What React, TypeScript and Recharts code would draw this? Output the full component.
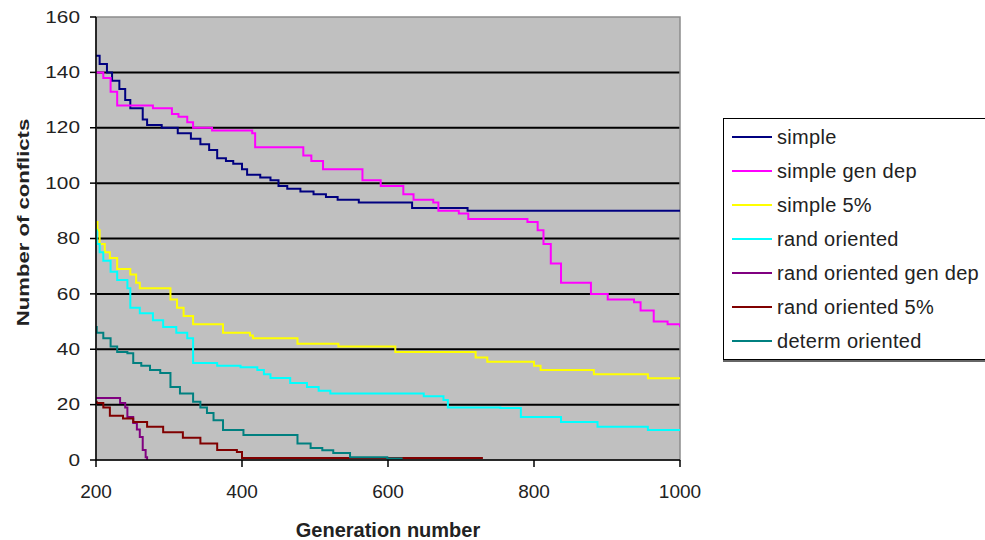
import React from 'react';
import { LineChart, Line, XAxis, YAxis, CartesianGrid, ReferenceArea } from 'recharts';

const xTicks = [200, 400, 600, 800, 1000];
const yTicks = [0, 20, 40, 60, 80, 100, 120, 140, 160];

const simple = [
  [200, 146], [205, 143], [215, 140], [222, 137], [232, 134], [240, 130], [247, 127], [264, 123], [270, 121],
  [290, 120], [312, 118], [330, 116], [343, 114], [355, 112], [366, 109], [378, 108], [388, 107], [400, 105],
  [407, 103], [425, 102], [439, 101], [450, 99], [462, 98], [480, 97], [498, 96], [515, 95], [531, 94],
  [560, 93], [610, 93], [633, 91], [680, 91], [709, 90], [1000, 90],
];
const simpleGenDep = [
  [200, 140], [210, 138], [220, 133], [229, 128], [274, 128], [278, 127], [304, 125], [313, 124], [325, 122],
  [333, 120], [359, 119], [414, 118], [418, 113], [477, 113], [484, 110], [495, 108], [511, 105], [562, 105],
  [565, 101], [590, 99], [614, 99], [621, 96], [635, 94], [662, 93], [669, 90], [697, 89], [710, 87],
  [765, 87], [791, 86], [805, 83], [813, 78], [823, 71], [837, 64], [864, 64], [878, 60], [901, 58],
  [937, 57], [946, 54], [964, 50], [983, 49], [1000, 48],
];
const simple5 = [
  [200, 86], [202, 83], [205, 78], [212, 75], [219, 73], [229, 69], [247, 67], [255, 64], [260, 62],
  [290, 62], [302, 58], [311, 55], [320, 52], [333, 49], [356, 49], [374, 46], [411, 45], [415, 44],
  [466, 44], [476, 42], [532, 41], [610, 39], [709, 39], [720, 37], [736, 35.5], [791, 35.5], [800, 34],
  [809, 32.5], [874, 32.5], [882, 31], [946, 31], [956, 29.5], [1000, 29.5],
];
const randOriented = [
  [200, 83], [201, 78], [205, 75], [210, 72], [220, 68], [229, 65], [243, 62], [247, 55], [260, 53],
  [278, 50.5], [292, 48], [310, 46], [325, 44], [333, 35], [366, 34], [398, 33.5], [421, 32.5], [430, 31],
  [439, 29.6], [466, 27.8], [489, 26.4], [505, 25], [521, 24], [645, 24], [649, 23], [676, 21.7], [682, 19],
  [717, 19], [754, 18.8], [782, 15.5], [833, 15.5], [837, 13.7], [882, 13.7], [887, 12], [950, 12],
  [956, 10.8], [1000, 10.8],
];
const randOrientedGenDep = [
  [200, 22.4], [223, 22.4], [233, 20.6], [240, 19], [243, 15.5], [251, 13.4], [256, 11], [260, 8.3],
  [264, 3.6], [268, 1], [270, 0],
];
const randOriented5 = [
  [200, 21], [201, 20.6], [210, 19], [219, 16], [237, 15], [251, 13.7], [270, 12], [292, 10], [319, 8],
  [343, 6], [366, 3.6], [393, 2.9], [400, 0.7], [730, 0.7],
];
const determOriented = [
  [200, 48], [201, 46], [210, 44], [220, 41], [229, 39], [243, 38.6], [251, 35], [262, 34], [274, 32.5],
  [288, 31.4], [302, 26.4], [315, 24], [333, 21], [343, 19], [352, 17], [361, 14.4], [374, 10.8], [402, 9],
  [466, 9], [476, 6], [494, 4.3], [510, 3.5], [525, 2.5], [548, 1], [599, 0.5], [620, 0.5],
];

const seriesNames = [
  'simple', 'simple gen dep', 'simple 5%', 'rand oriented',
  'rand oriented gen dep', 'rand oriented 5%', 'determ oriented',
];
const seriesColors = ['#000080', '#FF00FF', '#FFFF00', '#00FFFF', '#800080', '#800000', '#008080'];
const seriesData = [simple, simpleGenDep, simple5, randOriented, randOrientedGenDep, randOriented5, determOriented];

const toPoints = (arr: number[][]) => arr.map(([x, y]) => ({ x, y }));

const FONT = '"Liberation Sans", Arial, sans-serif';

const XTick = (props: any) => {
  const { x, y, payload } = props;
  return (
    <text x={x} y={y} dy="0.71em" textAnchor="middle" fontFamily={FONT} fontSize={19} fill="#222">
      {payload.value}
    </text>
  );
};

const YTick = (props: any) => {
  const { x, y, payload } = props;
  return (
    <g transform={`translate(${x},${y})`}>
      <text x={0} y={0} dy="0.355em" textAnchor="end" fontFamily={FONT} fontSize={16} fill="#222" transform="scale(1.3,1)">
        {payload.value}
      </text>
    </g>
  );
};

const XLabel = (props: any) => {
  const { viewBox } = props;
  const cx = viewBox.x + viewBox.width / 2;
  return (
    <text x={cx} y={537} textAnchor="middle" fontFamily={FONT} fontSize={20} fontWeight="bold" fill="#222">
      Generation number
    </text>
  );
};

const YLabel = (props: any) => {
  const { viewBox } = props;
  const cy = viewBox.y + viewBox.height / 2 - 16;
  return (
    <g transform={`translate(29,${cy}) rotate(-90)`}>
      <text x={0} y={0} textAnchor="middle" fontFamily={FONT} fontSize={17} fontWeight="bold" fill="#222" transform="scale(1.3,1)">
        Number of conflicts
      </text>
    </g>
  );
};

const LegendBox = () => (
  <div
    style={{
      position: 'absolute',
      left: 723,
      top: 118,
      width: 262,
      border: '1.5px solid #000',
      borderRight: 'none',
      boxShadow: '0 2px 0 #666',
      background: '#fff',
      padding: '1px 0 1px 0',
      fontFamily: FONT,
      fontSize: 20,
      letterSpacing: 0.3,
      color: '#222',
      boxSizing: 'border-box',
    }}
  >
    {seriesNames.map((name, i) => (
      <div key={name} style={{ display: 'flex', alignItems: 'center', height: 34, whiteSpace: 'nowrap' }}>
        <div style={{ width: 40, height: 0, borderTop: `2px solid ${seriesColors[i]}`, marginLeft: 8, marginRight: 5 }} />
        <span>{name}</span>
      </div>
    ))}
  </div>
);

export default function App() {
  return (
    <div style={{ position: 'absolute', left: 0, top: 0, width: 985, height: 540, background: '#fff', overflow: 'hidden' }}>
      <LineChart width={985} height={540} margin={{ top: 17, right: 305, left: 0, bottom: 0 }}>
        <CartesianGrid
          vertical={false}
          fill="#C0C0C0"
          stroke="#000"
          strokeWidth={2}
          horizontalValues={[20, 40, 60, 80, 100, 120, 140]}
        />
        <ReferenceArea x1={200} x2={1000} y1={0} y2={160} fill="none" fillOpacity={0} stroke="#8c8c8c" strokeWidth={1.5} />
        <XAxis
          type="number"
          dataKey="x"
          domain={[200, 1000]}
          ticks={xTicks}
          allowDataOverflow
          axisLine={{ stroke: '#000', strokeWidth: 1.5 }}
          tickLine={{ stroke: '#000', strokeWidth: 1.5 }}
          tickSize={7}
          tickMargin={18}
          tick={<XTick />}
          height={80}
          label={<XLabel />}
        />
        <YAxis
          type="number"
          dataKey="y"
          domain={[0, 160]}
          ticks={yTicks}
          axisLine={{ stroke: '#000', strokeWidth: 1.5 }}
          tickLine={{ stroke: '#000', strokeWidth: 1.5 }}
          tickSize={6}
          tickMargin={10}
          tick={<YTick />}
          width={96}
          label={<YLabel />}
        />
        {seriesData.map((d, i) => (
          <Line
            key={seriesNames[i]}
            data={toPoints(d)}
            dataKey="y"
            name={seriesNames[i]}
            type="stepAfter"
            stroke={seriesColors[i]}
            strokeWidth={2}
            dot={false}
            activeDot={false}
            isAnimationActive={false}
          />
        ))}
      </LineChart>
      <LegendBox />
    </div>
  );
}
